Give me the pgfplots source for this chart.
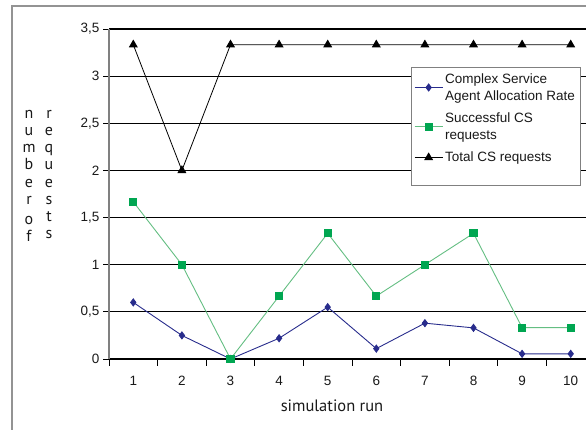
\documentclass[border=0pt]{standalone}
\usepackage{pgfplots}
\pgfplotsset{compat=1.18}
\usepackage{fontspec}
\setmainfont{Liberation Sans}
\newfontfamily\labfont{PT Sans}
\definecolor{navy}{RGB}{40,44,140}
\definecolor{lgreen}{RGB}{100,190,130}
\definecolor{mgreen}{RGB}{0,166,81}
\begin{document}
\begin{tikzpicture}[x=1pt,y=1pt]
\useasboundingbox (0,0) rectangle (586,430);
\draw[gray!85, line width=1.5pt] (12,-2) -- (12,424) -- (600,424);
\begin{axis}[
  at={(109pt,71pt)}, anchor=south west,
  scale only axis, width=486pt, height=330pt,
  xmin=0.5, xmax=10.5, ymin=0, ymax=3.5,
  axis x line*=bottom, axis y line*=left,
  x axis line style={-, black, line width=1pt},
  y axis line style={-, gray, line width=1.2pt},
  xtick={1,...,10},
  minor xtick={0.5,1.5,...,10.5},
  major x tick style={draw=none},
  minor x tick style={black, line width=0.9pt},
  minor tick length=7pt,
  ytick={0,0.5,...,3.5},
  y tick style={black, line width=0.9pt},
  major tick length=6pt,
  tick align=outside,
  ymajorgrids,
  grid style={black, line width=1.1pt},
  /pgf/number format/assume math mode=true,
  yticklabel style={/pgf/number format/.cd, use comma, fixed, precision=1},
  tick label style={font=\fontsize{13.5}{15}\selectfont, text=black!90},
  xticklabel style={yshift=-8pt},
  legend style={at={(0.621,0.885)}, anchor=north west, draw=gray, line width=0.8pt,
     font=\fontsize{13.5}{17}\selectfont, inner xsep=3pt, inner ysep=4pt,
     row sep=7pt, text=black!90, cells={align=left}},
  legend cell align=left,
  legend image code/.code={\draw[mark repeat=2,mark phase=2,#1] plot coordinates {(0pt,0pt)(14pt,0pt)(28pt,0pt)};},
  clip=false,
]
\addplot[navy, line width=0.9pt, mark=diamond*, mark size=3.5pt, mark options={fill=navy}] coordinates {
(1,0.60)(2,0.25)(3,0.0)(4,0.22)(5,0.55)(6,0.11)(7,0.38)(8,0.33)(9,0.055)(10,0.055)};
\addlegendentry{Complex Service\\Agent Allocation Rate}
\addplot[lgreen, line width=0.9pt, mark=square*, mark size=3.6pt, mark options={fill=mgreen, draw=mgreen}] coordinates {
(1,1.667)(2,1.0)(3,0.0)(4,0.667)(5,1.333)(6,0.667)(7,1.0)(8,1.333)(9,0.333)(10,0.333)};
\addlegendentry{Successful CS\\requests}
\addplot[black, line width=0.8pt, mark=triangle*, mark size=4.4pt, mark options={fill=black}] coordinates {
(1,3.333)(2,2.0)(3,3.333)(4,3.333)(5,3.333)(6,3.333)(7,3.333)(8,3.333)(9,3.333)(10,3.333)};
\addlegendentry{Total CS requests}
\addlegendimage{empty legend}
\addlegendentry{\rule{0pt}{4pt}}
\end{axis}
\node[font=\labfont\fontsize{16.5}{19}\selectfont, text=black!90] at (332,24) {simulation run};
\foreach \l [count=\i] in {n,u,m,b,e,r,o,f} {
  \pgfmathsetmacro{\yy}{430-115-(\i-1)*17.2-(\i>6)*3}
  \node[font=\labfont\fontsize{16}{17}\selectfont, text=black!90] at (29,\yy) {\strut\l};
}
\foreach \l [count=\i] in {r,e,q,u,e,s,t,s} {
  \pgfmathsetmacro{\yy}{430-115-(\i-1)*17.2}
  \node[font=\labfont\fontsize{16}{17}\selectfont, text=black!90] at (49,\yy) {\strut\l};
}
\end{tikzpicture}
\end{document}
